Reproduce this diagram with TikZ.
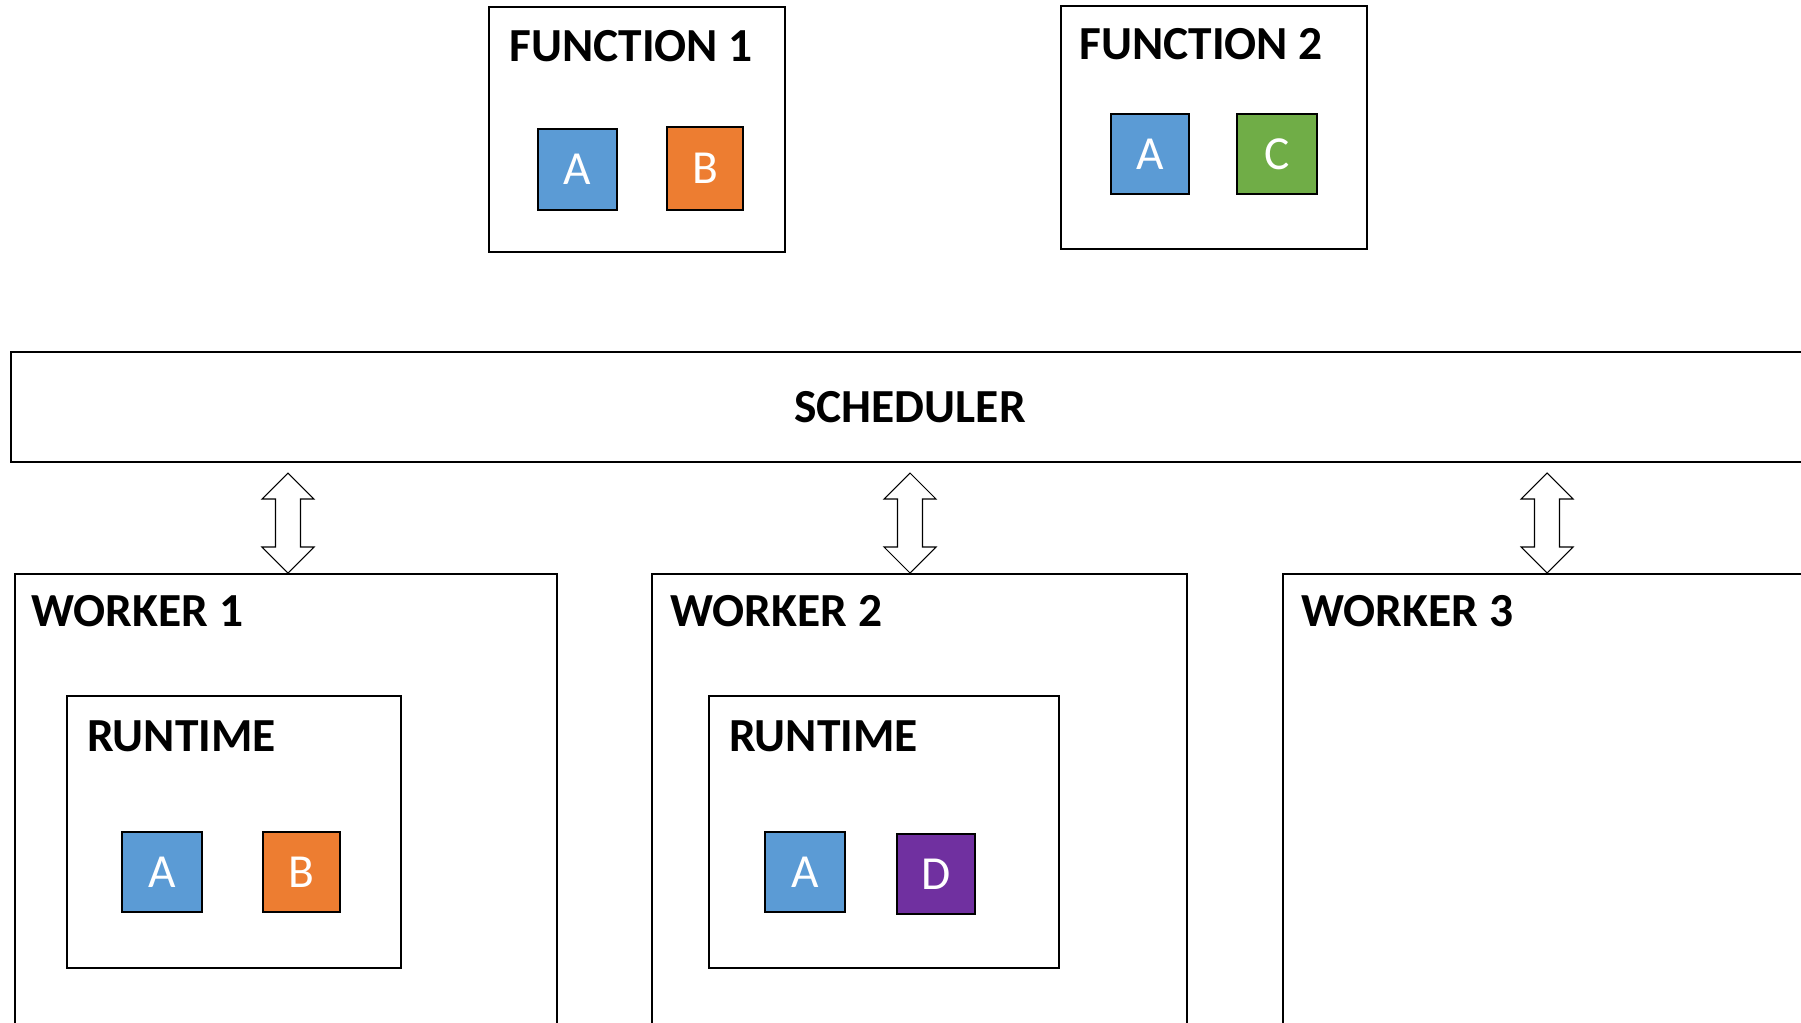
\documentclass[tikz,border=0pt]{standalone}
\usepackage{fontspec}
\setmainfont{Carlito}
\usetikzlibrary{fit}
\definecolor{cblue}{HTML}{5B9BD5}
\definecolor{corange}{HTML}{ED7D31}
\definecolor{cgreen}{HTML}{70AD47}
\definecolor{cpurple}{HTML}{7030A0}
\tikzset{
  box/.style={draw=black, line width=0.8pt, inner sep=0pt, fill=none},
  title/.style={anchor=base west, inner sep=0pt, font=\fontsize{27}{30}\selectfont\bfseries},
  sq/.style={draw=black, line width=0.8pt, inner sep=0pt},
  letter/.style={inner sep=0pt, anchor=center, text=white, text height=17.4pt, text depth=0pt, font=\fontsize{27}{30}\selectfont},
  blockarrow/.style={draw=black, line width=0.6pt, fill=white, line join=miter}
}
\begin{document}
\begin{tikzpicture}[x=0.02cm, y=-0.02cm]
\useasboundingbox (0,0) rectangle (1801,1022);
\clip (0,0) rectangle (1801,1022);
\fill[white] (0,0) rectangle (1801,1022);

% Function 1
\node[box, fit={(489,7) (785,252)}] (f1) {};
\node[title] (f1t) at (509,61) {FUNCTION 1};
\node[sq, fill=cblue, fit={(538,129) (617,210)}] (f1a) {};
\node[letter] (f1al) at (f1a.center) {A};
\node[sq, fill=corange, fit={(667,127) (743,210)}] (f1b) {};
\node[letter] (f1bl) at (f1b.center) {B};

% Function 2
\node[box, fit={(1061,6) (1367,249)}] (f2) {};
\node[title] (f2t) at (1079,59) {FUNCTION 2};
\node[sq, fill=cblue, fit={(1111,114) (1189,194)}] (f2a) {};
\node[letter] (f2al) at (f2a.center) {A};
\node[sq, fill=cgreen, fit={(1237,114) (1317,194)}] (f2c) {};
\node[letter] (f2cl) at (f2c.center) {C};

% Scheduler
\node[box, fit={(11,352) (1830,462)}] (sched) {};
\node[anchor=base, inner sep=0pt, font=\fontsize{27}{30}\selectfont\bfseries] (schedt) at (910,422) {SCHEDULER};

% Workers
\node[box, fit={(15,574) (557,1060)}] (w1) {};
\node[title] (w1t) at (31,626) {WORKER 1};
\node[box, fit={(652,574) (1187,1060)}] (w2) {};
\node[title] (w2t) at (670,626) {WORKER 2};
\node[box, fit={(1283,574) (1830,1060)}] (w3) {};
\node[title] (w3t) at (1301,626) {WORKER 3};

% Runtimes
\node[box, fit={(67,696) (401,968)}] (r1) {};
\node[title] (r1t) at (87,751) {RUNTIME};
\node[sq, fill=cblue, fit={(122,832) (202,912)}] (r1a) {};
\node[letter] (r1al) at (r1a.center) {A};
\node[sq, fill=corange, fit={(263,832) (340,912)}] (r1b) {};
\node[letter] (r1bl) at (r1b.center) {B};

\node[box, fit={(709,696) (1059,968)}] (r2) {};
\node[title] (r2t) at (729,751) {RUNTIME};
\node[sq, fill=cblue, fit={(765,832) (845,912)}] (r2a) {};
\node[letter] (r2al) at (r2a.center) {A};
\node[sq, fill=cpurple, fit={(897,834) (975,914)}] (r2d) {};
\node[letter] (r2dl) at (r2d.center) {D};

% Double block arrows between scheduler and workers
\foreach \name/\xx in {a1/288, a2/910, a3/1547}{
  \coordinate (\name) at (\xx,473);
  \draw[blockarrow] (\name) -- ++(26,26) -- ++(-13.5,0) -- ++(0,48) -- ++(13.5,0)
    -- ++(-26,26) -- ++(-26,-26) -- ++(13.5,0) -- ++(0,-48) -- ++(-13.5,0) -- cycle;
}
\end{tikzpicture}
\end{document}
